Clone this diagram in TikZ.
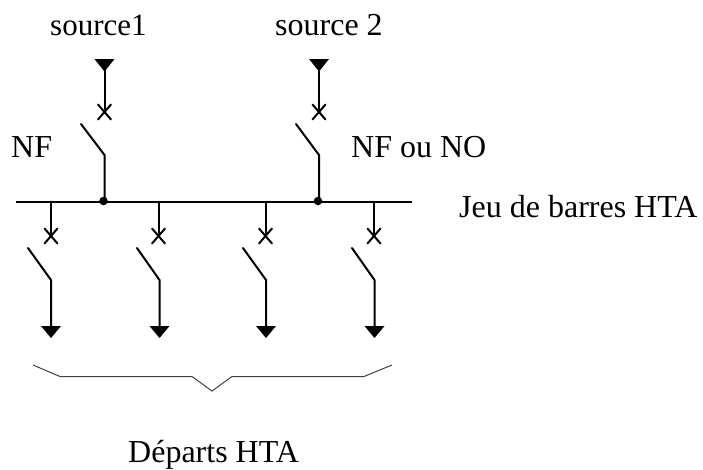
\documentclass[tikz,border=0pt]{standalone}
\usepackage{fontspec}
\setmainfont{Liberation Serif}
\tikzset{
  wire/.style={line width=2pt,line cap=round,line join=miter},
  thinwire/.style={line width=1pt,black!75},
  tip/.style={fill=black,draw=none},
  lab/.style={anchor=base west,inner sep=0pt,font=\fontsize{32}{38}\selectfont},
  junction/.style={circle,fill=black,inner sep=0pt,minimum size=8.5pt}
}
\begin{document}
\begin{tikzpicture}[x=1pt,y=-1pt]
\useasboundingbox (0,0) rectangle (703,469);
% bus
\coordinate (busL) at (16,201.5);
\coordinate (busR) at (412,201.5);
\draw[wire,line cap=butt] (busL) -- (busR);
\node[junction] (j1) at (103.5,201) {};
\node[junction] (j2) at (318,201) {};
% sources
\foreach \n/\x/\sx in {a/104.5/81,b/319/296}{
  \coordinate (\n top) at (\x,65);
  \coordinate (\n brk) at (\x,112);
  \coordinate (\n arm) at (\sx,124);
  \coordinate (\n hin) at (\x,155);
  \coordinate (\n bot) at (\x,201);
  \fill[tip] (\x-10,59) -- (\x+10,59) -- (\x,71.5) -- cycle;
  \draw[wire] (\n top) -- (\n brk);
  \draw[wire] (\x-6.5,104.5) -- (\x+6.5,119.5) (\x+6.5,104.5) -- (\x-6.5,119.5);
  \draw[wire] (\n arm) -- (\n hin) -- (\n bot);
}
% feeders
\foreach \n/\x/\tx/\sx in {c/51/51/28,d/158.5/159.5/137,e/265.5/266/243,f/374/374.5/352}{
  \coordinate (\n top) at (\x,201.5);
  \coordinate (\n brk) at (\x,236);
  \coordinate (\n arm) at (\sx,248);
  \coordinate (\n hin) at (\tx,280);
  \coordinate (\n bot) at (\tx,332);
  \draw[wire] (\n top) -- (\n brk);
  \draw[wire] (\x-6.5,228.5) -- (\x+6.5,243.5) (\x+6.5,228.5) -- (\x-6.5,243.5);
  \draw[wire] (\n arm) -- (\n hin) -- (\n bot);
  \fill[tip] (\tx-10,326) -- (\tx+10,326) -- (\tx,338) -- cycle;
}
% brace
\coordinate (b1) at (33,365);
\coordinate (b2) at (60,376.5);
\coordinate (b3) at (192,376.5);
\coordinate (b4) at (212,391);
\coordinate (b5) at (232,376.5);
\coordinate (b6) at (364,376.5);
\coordinate (b7) at (392,365);
\draw[thinwire] (b1) -- (b2) -- (b3) -- (b4) -- (b5) -- (b6) -- (b7);
% labels
\node[lab,font=\fontsize{31}{38}\selectfont] (s1) at (50,35) {source1};
\node[lab] (s2) at (275,35) {source 2};
\node[lab] (nf) at (11,157) {NF};
\node[lab] (nfo) at (351,157) {NF ou NO};
\node[lab] (jeu) at (459,217) {Jeu de barres HTA};
\node[lab] (dep) at (128,462) {Départs HTA};
\end{tikzpicture}
\end{document}
